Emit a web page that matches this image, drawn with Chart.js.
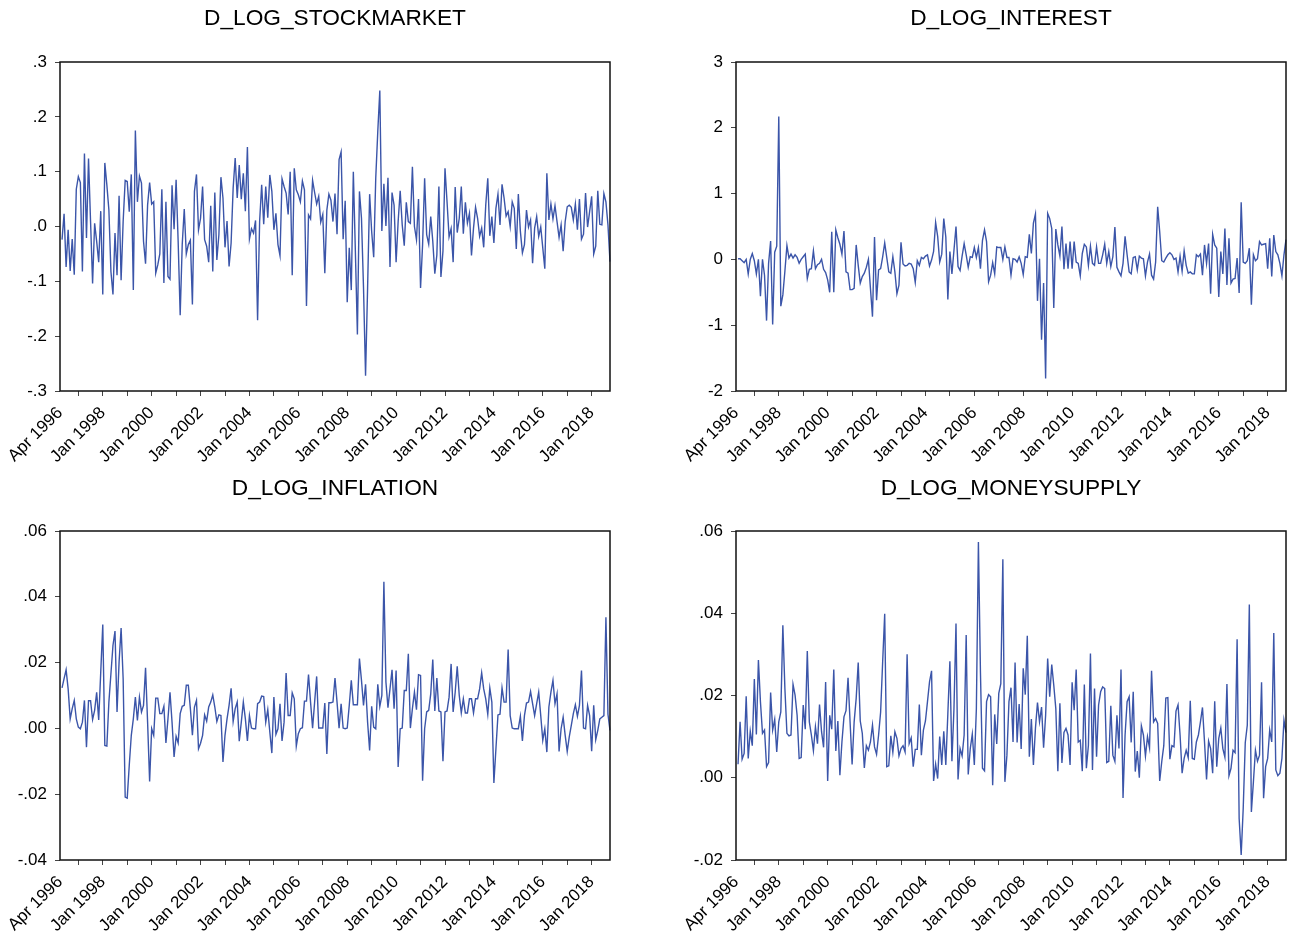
<!DOCTYPE html>
<html><head><meta charset="utf-8">
<script src="https://cdn.jsdelivr.net/npm/chart.js@4.4.1/dist/chart.umd.min.js"></script>
<style>
html,body{margin:0;padding:0;background:#fff;overflow:hidden;}
#wrap{position:relative;width:1294px;height:941px;background:#fff;}
.panel{position:absolute;}
canvas{display:block;}
</style></head><body>
<div id="wrap">
<div class="panel" style="left:0;top:0;width:647px;height:470px"><canvas id="c1" width="647" height="470"></canvas></div>
<div class="panel" style="left:647px;top:0;width:647px;height:470px"><canvas id="c2" width="647" height="470"></canvas></div>
<div class="panel" style="left:0;top:470px;width:647px;height:471px"><canvas id="c3" width="647" height="471"></canvas></div>
<div class="panel" style="left:647px;top:470px;width:647px;height:471px"><canvas id="c4" width="647" height="471"></canvas></div>
</div>
<script>
// ---------- categories (monthly, Apr 1996 .. Oct 2018) ----------
const MONTHS = ['Jan','Feb','Mar','Apr','May','Jun','Jul','Aug','Sep','Oct','Nov','Dec'];
const monthLabels = [];
for (let i = 0; i < 271; i++) {
  monthLabels.push(MONTHS[(3 + i) % 12] + ' ' + (1996 + Math.floor((3 + i) / 12)));
}
const xTickLabels = ['Apr 1996','Jan 1998','Jan 2000','Jan 2002','Jan 2004','Jan 2006','Jan 2008','Jan 2010','Jan 2012','Jan 2014','Jan 2016','Jan 2018'];

// ---------- y tick labels ----------
const stockTickLabels = ['-.3','-.2','-.1','.0','.1','.2','.3'];
const interestTickLabels = ['-2','-1','0','1','2','3'];
const inflationTickLabels = ['-.04','-.02','.00','.02','.04','.06'];
const moneyTickLabels = ['-.02','.00','.02','.04','.06'];

// ---------- series ----------
const stockmarket = [null,
-0.024,0.023,-0.074,-0.006,-0.081,-0.023,-0.088,0.068,0.091,0.080,
-0.082,0.133,-0.021,0.124,0.009,-0.104,0.006,-0.027,-0.065,0.028,
-0.124,0.116,0.076,0.030,-0.082,-0.124,-0.012,-0.089,0.056,-0.098,
0.009,0.084,0.082,0.027,0.095,-0.116,0.175,0.045,0.092,0.079,
-0.027,-0.068,0.039,0.080,0.041,0.045,-0.085,-0.070,-0.050,0.068,
-0.103,0.045,-0.091,-0.096,0.075,-0.005,0.085,-0.027,-0.162,-0.033,
0.032,-0.050,-0.033,-0.025,-0.142,0.064,0.095,-0.006,0.015,0.073,
-0.024,-0.036,-0.065,0.038,-0.082,0.062,-0.061,-0.015,0.090,0.052,
-0.038,0.010,-0.073,-0.030,0.070,0.125,0.052,0.112,0.050,0.097,
0.028,0.145,-0.023,-0.004,-0.012,0.011,-0.171,0.009,0.076,0.004,
0.073,0.016,0.094,0.064,-0.006,0.024,-0.033,-0.053,0.087,0.073,
0.061,0.022,0.100,-0.089,0.106,0.067,0.058,0.045,0.083,0.067,
-0.145,0.021,0.014,0.084,0.062,0.041,0.055,0.008,0.022,-0.085,
0.030,0.059,0.048,0.009,0.060,-0.014,0.122,0.136,-0.023,0.047,
-0.138,-0.039,-0.116,0.100,-0.045,-0.197,0.064,0.015,-0.112,-0.272,
-0.112,0.059,-0.009,-0.056,0.088,0.173,0.248,-0.008,0.078,0.001,
0.089,-0.074,0.062,0.039,-0.065,0.009,0.065,0.003,-0.035,0.044,
0.009,0.006,0.109,0.000,-0.024,0.050,-0.112,-0.033,0.088,-0.015,
-0.032,0.018,-0.027,-0.086,-0.052,0.073,-0.092,-0.045,0.106,0.045,
-0.019,-0.004,-0.065,0.072,-0.011,0.015,0.073,-0.013,0.044,0.006,
0.024,-0.053,-0.003,0.035,0.015,-0.018,-0.003,-0.038,0.039,0.088,
-0.017,0.018,-0.030,0.033,0.059,0.003,0.077,0.052,0.019,0.027,
0.000,0.045,0.033,-0.041,0.059,-0.009,-0.048,-0.033,0.030,-0.001,
0.012,-0.067,-0.003,0.018,-0.018,-0.001,-0.039,-0.077,0.097,0.012,
0.041,0.014,0.038,0.009,-0.020,0.003,-0.045,0.009,0.036,0.039,
0.035,0.012,0.041,-0.006,0.050,-0.023,-0.014,0.061,-0.001,0.027,
0.055,-0.050,-0.036,0.065,0.004,0.003,0.060,0.045,0.003,-0.064];

const interest = [null,
0.01,0.01,-0.02,-0.05,0.00,-0.22,0.00,0.09,-0.02,-0.22,
0.00,-0.56,0.00,-0.24,-0.93,-0.06,0.28,-0.99,0.11,0.20,
2.17,-0.71,-0.54,-0.18,0.21,0.02,0.08,0.02,0.07,0.03,
-0.06,0.00,0.04,0.08,-0.29,-0.15,-0.14,0.13,-0.14,-0.08,
-0.06,0.00,-0.15,-0.20,-0.31,-0.50,0.42,-0.50,0.45,0.33,
0.23,0.08,0.43,-0.19,-0.21,-0.46,-0.46,-0.44,0.22,-0.09,
-0.36,-0.26,-0.21,-0.12,0.00,-0.44,-0.87,0.34,-0.62,-0.16,
-0.14,0.04,0.25,0.03,-0.19,-0.21,0.04,-0.19,-0.52,-0.39,
0.26,-0.07,-0.10,-0.09,-0.06,-0.07,-0.14,-0.35,-0.02,-0.09,
0.03,0.01,0.05,0.07,-0.10,-0.01,0.12,0.56,0.35,-0.04,
0.08,0.62,0.34,-0.61,0.12,-0.22,0.14,0.50,-0.11,-0.17,
0.05,0.24,0.07,-0.12,0.04,0.03,0.18,0.03,0.18,-0.14,
0.29,0.45,0.27,-0.34,-0.24,-0.05,-0.22,0.19,0.18,0.18,
0.00,0.19,0.03,0.03,-0.24,0.01,0.00,-0.04,0.04,-0.06,
-0.23,0.04,0.03,0.38,0.09,0.55,0.69,-0.63,0.01,-1.22,
-0.36,-1.81,0.70,0.62,0.47,-0.74,0.46,0.22,0.05,0.50,
-0.15,0.24,-0.14,0.27,-0.14,0.27,-0.04,-0.06,-0.25,0.09,
0.23,0.19,-0.09,0.20,-0.06,-0.09,0.19,-0.06,-0.06,0.07,
0.23,-0.06,0.12,-0.11,0.04,0.49,-0.12,-0.19,-0.25,-0.06,
0.35,0.07,-0.19,-0.22,0.03,0.04,-0.16,0.05,0.02,0.01,
-0.25,-0.04,0.08,-0.24,-0.30,-0.04,0.80,0.42,-0.02,-0.04,
0.02,0.07,0.10,0.07,0.00,0.02,-0.19,0.05,-0.18,0.13,
-0.09,-0.21,-0.19,-0.22,-0.22,0.07,0.04,0.08,-0.24,0.22,
-0.06,0.24,-0.52,0.38,0.22,0.17,-0.57,0.12,-0.22,0.47,
-0.39,0.32,-0.36,-0.30,-0.29,0.02,-0.51,0.87,-0.04,-0.06,
-0.02,0.17,-0.69,0.07,-0.02,0.01,0.27,0.22,0.23,0.24,
-0.14,0.32,-0.26,0.37,0.12,0.07,-0.06,-0.25,0.07,0.30];

const inflation = [null,
0.0123,0.0151,0.0178,0.0120,0.0029,0.0060,0.0085,0.0029,0.0004,-0.0001,
0.0019,0.0085,-0.0057,0.0084,0.0084,0.0027,0.0055,0.0110,0.0026,0.0171,
0.0316,-0.0052,-0.0054,0.0080,0.0166,0.0252,0.0296,0.0050,0.0201,0.0305,
0.0151,-0.0209,-0.0212,-0.0112,-0.0021,0.0029,0.0095,0.0024,0.0095,0.0050,
0.0070,0.0184,0.0019,-0.0161,-0.0001,-0.0021,0.0092,0.0092,0.0045,0.0045,
0.0067,-0.0044,0.0029,0.0110,0.0019,-0.0087,-0.0024,-0.0044,0.0045,0.0067,
0.0070,0.0131,0.0131,0.0060,-0.0021,0.0065,0.0085,-0.0062,-0.0045,-0.0021,
0.0041,0.0022,0.0065,0.0080,0.0102,0.0065,0.0021,0.0041,0.0039,-0.0102,
-0.0021,0.0029,0.0070,0.0122,0.0021,0.0060,0.0080,-0.0039,0.0019,0.0080,
0.0029,-0.0038,0.0039,0.0001,-0.0001,-0.0001,0.0075,0.0080,0.0098,0.0097,
0.0019,0.0057,-0.0011,-0.0075,0.0095,-0.0018,-0.0001,0.0075,-0.0038,0.0019,
0.0168,0.0039,0.0039,0.0108,0.0090,-0.0054,-0.0016,-0.0001,0.0002,0.0083,
0.0083,0.0164,0.0080,0.0001,0.0080,0.0158,0.0001,0.0001,0.0001,0.0077,
-0.0078,0.0078,0.0078,0.0080,0.0153,0.0080,0.0001,0.0075,0.0001,-0.0001,
0.0001,0.0070,0.0146,0.0072,0.0072,0.0072,0.0212,0.0146,0.0070,0.0134,
0.0019,-0.0067,0.0067,0.0004,-0.0001,0.0134,0.0067,0.0100,0.0446,0.0141,
0.0063,0.0120,0.0178,0.0060,0.0176,-0.0117,-0.0001,0.0001,0.0115,0.0115,
0.0227,0.0001,0.0060,0.0110,0.0057,0.0163,0.0161,-0.0159,-0.0001,0.0050,
0.0055,0.0105,0.0209,0.0053,0.0153,0.0053,0.0050,-0.0100,0.0050,0.0053,
0.0095,0.0196,0.0050,0.0110,0.0189,0.0100,0.0047,0.0090,0.0047,0.0047,
0.0090,0.0090,0.0047,0.0090,0.0090,0.0120,0.0169,0.0120,0.0090,0.0043,
0.0123,0.0080,-0.0166,-0.0062,0.0041,0.0043,0.0123,0.0080,0.0080,0.0240,
0.0039,0.0001,-0.0001,-0.0001,-0.0001,0.0037,-0.0038,0.0039,0.0077,0.0080,
0.0112,0.0075,0.0039,0.0075,0.0110,0.0039,-0.0036,-0.0001,-0.0072,0.0065,
0.0110,0.0146,0.0075,0.0105,-0.0070,-0.0001,0.0034,-0.0021,-0.0070,-0.0026,
0.0009,0.0045,0.0072,0.0037,0.0070,0.0176,0.0001,-0.0001,0.0070,0.0039,
-0.0069,0.0070,-0.0034,-0.0006,0.0029,0.0034,0.0039,0.0338,0.0043,-0.0006];

const moneysupply = [null,
0.0033,0.0136,0.0045,0.0059,0.0198,0.0047,0.0113,0.0078,0.0240,0.0105,
0.0286,0.0185,0.0108,0.0116,0.0027,0.0037,0.0207,0.0116,0.0142,0.0063,
0.0136,0.0160,0.0371,0.0217,0.0108,0.0102,0.0104,0.0227,0.0201,0.0152,
0.0047,0.0049,0.0177,0.0118,0.0308,0.0136,0.0104,0.0066,0.0124,0.0083,
0.0178,0.0112,0.0074,0.0233,-0.0008,0.0152,0.0118,0.0263,0.0065,0.0138,
0.0006,0.0087,0.0148,0.0163,0.0243,0.0136,0.0032,0.0136,0.0193,0.0280,
0.0138,0.0108,0.0024,0.0078,0.0067,0.0087,0.0128,0.0075,0.0057,0.0104,
0.0160,0.0282,0.0399,0.0027,0.0029,0.0102,0.0062,0.0112,0.0096,0.0053,
0.0071,0.0078,0.0063,0.0300,0.0083,0.0097,0.0027,0.0069,0.0069,0.0178,
0.0055,0.0116,0.0138,0.0185,0.0233,0.0260,-0.0008,0.0033,-0.0002,0.0100,
0.0031,0.0113,0.0031,0.0156,0.0283,0.0040,0.0168,0.0375,-0.0004,0.0071,
0.0053,0.0104,0.0347,0.0008,0.0071,0.0106,0.0031,0.0168,0.0573,0.0257,
0.0023,0.0017,0.0185,0.0202,0.0197,-0.0018,0.0154,0.0082,0.0205,0.0229,
0.0531,-0.0010,0.0055,0.0185,0.0219,0.0087,0.0280,0.0086,0.0179,0.0070,
0.0266,0.0202,0.0345,0.0051,0.0143,0.0031,0.0120,0.0183,0.0136,0.0172,
0.0073,0.0152,0.0290,0.0197,0.0275,0.0225,0.0168,0.0016,0.0181,0.0036,
0.0110,0.0120,0.0104,0.0031,0.0232,0.0164,0.0263,0.0087,0.0091,0.0016,
0.0227,0.0023,0.0079,0.0302,0.0019,0.0217,0.0051,0.0177,0.0209,0.0221,
0.0217,0.0037,0.0040,0.0175,0.0055,0.0040,0.0152,0.0071,0.0263,-0.0049,
0.0104,0.0185,0.0197,0.0086,0.0209,0.0015,0.0065,0.0000,0.0126,0.0104,
0.0053,0.0100,0.0073,0.0260,0.0136,0.0144,0.0132,-0.0008,0.0039,0.0078,
0.0194,0.0195,0.0045,0.0078,0.0075,0.0162,0.0177,0.0104,0.0011,0.0047,
0.0067,0.0049,0.0187,0.0047,0.0045,0.0087,0.0104,0.0136,0.0171,0.0087,
-0.0004,0.0089,0.0071,0.0011,0.0186,0.0027,0.0096,0.0121,0.0071,0.0050,
0.0228,0.0005,0.0023,0.0067,0.0061,0.0337,-0.0099,-0.0188,-0.0074,0.0085,
0.0128,0.0421,-0.0083,-0.0010,0.0067,0.0040,0.0055,0.0232,-0.0050,0.0027,
0.0047,0.0116,0.0087,0.0352,0.0019,0.0005,0.0011,0.0047,0.0140,0.0110];

// ---------- drawing ----------
const FONT = '"Liberation Sans", Arial, Helvetica, sans-serif';
const LINE_COLOR = '#3B55A9';
const TITLE_SIZE = 22.7;
const TITLE_LH = TITLE_SIZE * 1.2;

const framePlugin = {
  id: 'frame',
  afterDraw(chart) {
    const a = chart.chartArea, ctx = chart.ctx;
    ctx.save();
    ctx.strokeStyle = '#111';
    ctx.lineWidth = 1.5;
    ctx.strokeRect(a.left, a.top, a.right - a.left, a.bottom - a.top);
    ctx.restore();
  }
};

function makePanel(id, title, values, yMin, yMax, yStep, yLabels, geo) {
  new Chart(document.getElementById(id), {
    type: 'line',
    data: {
      labels: monthLabels,
      datasets: [{
        data: values, borderColor: LINE_COLOR, borderWidth: 1.4,
        pointRadius: 0, pointHoverRadius: 0, fill: false, tension: 0
      }]
    },
    options: {
      responsive: false, animation: false, devicePixelRatio: 1,
      events: [],
      layout: { padding: { left: 0, right: geo.canvasW - geo.right, top: 0, bottom: 0 } },
      plugins: {
        legend: { display: false },
        tooltip: { enabled: false },
        title: {
          display: true, text: title, color: '#000', fullSize: false,
          font: { family: FONT, size: TITLE_SIZE, weight: 'normal', lineHeight: 1.2 },
          padding: { top: geo.titleY - TITLE_LH / 2, bottom: geo.top - (geo.titleY - TITLE_LH / 2) - TITLE_LH }
        }
      },
      scales: {
        x: {
          type: 'category', offset: false,
          border: { display: false },
          grid: {
            display: true, drawOnChartArea: false, drawTicks: true, tickLength: 5, tickWidth: 1,
            tickColor: (ctx) => (monthLabels[ctx.index] || '').startsWith('Jan') ? '#444' : 'rgba(0,0,0,0)'
          },
          ticks: {
            autoSkip: false, maxRotation: 45, minRotation: 45, padding: 7, color: '#000',
            font: { family: FONT, size: 17 },
            callback: function (v, i) { const l = monthLabels[i]; return xTickLabels.includes(l) ? l : ''; }
          },
          afterFit: (s) => { s.height = geo.canvasH - geo.bottom; s.paddingLeft = 0; s.paddingRight = 0; }
        },
        y: {
          min: yMin, max: yMax,
          border: { display: false },
          grid: { display: true, drawOnChartArea: false, drawTicks: true, tickLength: 5, tickColor: '#444' },
          ticks: {
            stepSize: yStep, padding: 8, color: '#000', font: { family: FONT, size: 17 },
            callback: (v) => yLabels[Math.round((v - yMin) / yStep)]
          },
          afterFit: (s) => { s.width = geo.left; }
        }
      }
    },
    plugins: [framePlugin]
  });
}

makePanel('c1', 'D_LOG_STOCKMARKET', stockmarket, -0.3, 0.3, 0.1, stockTickLabels,
  { canvasW: 647, canvasH: 470, left: 60, right: 610, top: 62, bottom: 391, titleY: 19 });
makePanel('c2', 'D_LOG_INTEREST', interest, -2, 3, 1, interestTickLabels,
  { canvasW: 647, canvasH: 470, left: 89, right: 639, top: 62, bottom: 391, titleY: 19 });
makePanel('c3', 'D_LOG_INFLATION', inflation, -0.04, 0.06, 0.02, inflationTickLabels,
  { canvasW: 647, canvasH: 471, left: 60, right: 610, top: 61, bottom: 390, titleY: 18.5 });
makePanel('c4', 'D_LOG_MONEYSUPPLY', moneysupply, -0.02, 0.06, 0.02, moneyTickLabels,
  { canvasW: 647, canvasH: 471, left: 89, right: 639, top: 61, bottom: 390, titleY: 18.5 });
</script>
</body></html>
